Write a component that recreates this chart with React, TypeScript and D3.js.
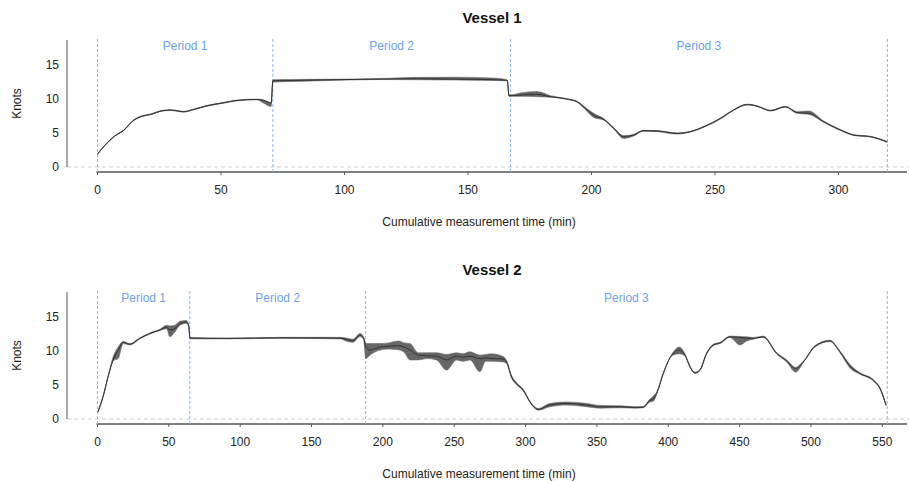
import * as d3 from "d3";
import React from "react";

// rows: [cumulative time (min), mean speed, lower band, upper band] in knots
const vessel1: [number, number, number, number][] = [
  [0, 1.9, 1.85, 1.95],
  [3, 3.2, 3.15, 3.25],
  [6.6, 4.46, 4.4, 4.52],
  [10.7, 5.44, 5.38, 5.5],
  [14.7, 6.9, 6.84, 6.96],
  [17.4, 7.4, 7.34, 7.46],
  [21.5, 7.75, 7.69, 7.81],
  [26.2, 8.28, 8.22, 8.34],
  [29.6, 8.38, 8.32, 8.44],
  [34.9, 8.14, 8.08, 8.2],
  [39, 8.48, 8.42, 8.54],
  [44.4, 9.02, 8.96, 9.08],
  [51.1, 9.46, 9.4, 9.52],
  [56.5, 9.8, 9.74, 9.86],
  [64.6, 9.95, 9.9, 10.0],
  [67.3, 9.8, 9.4, 9.88],
  [70.3, 9.4, 8.9, 9.5],
  [71, 12.7, 12.5, 12.85],
  [80, 12.75, 12.6, 12.9],
  [95, 12.85, 12.75, 12.92],
  [115, 12.95, 12.88, 13.02],
  [130, 13.0, 12.85, 13.2],
  [145, 12.95, 12.8, 13.22],
  [160, 12.85, 12.75, 13.1],
  [165.9, 12.75, 12.7, 12.82],
  [166.6, 10.5, 10.4, 10.6],
  [172, 10.6, 10.4, 10.95],
  [178, 10.7, 10.35, 11.1],
  [183.4, 10.35, 10.28, 10.5],
  [190.2, 10.0, 9.94, 10.06],
  [194.2, 9.6, 9.52, 9.68],
  [198.3, 8.4, 8.15, 8.55],
  [200.9, 7.6, 7.3, 7.9],
  [205, 7.0, 6.9, 7.1],
  [209, 5.7, 5.6, 5.8],
  [213, 4.5, 4.2, 4.6],
  [217, 4.7, 4.55, 4.8],
  [221, 5.34, 5.28, 5.4],
  [226.6, 5.3, 5.2, 5.36],
  [234.7, 4.95, 4.85, 5.02],
  [240, 5.2, 5.14, 5.26],
  [246, 6.0, 5.94, 6.06],
  [252.2, 7.15, 7.05, 7.22],
  [257.6, 8.4, 8.34, 8.46],
  [263, 9.2, 9.14, 9.26],
  [267, 8.97, 8.91, 9.03],
  [272.5, 8.3, 8.24, 8.36],
  [278.5, 8.87, 8.81, 8.93],
  [283.3, 8.0, 7.9, 8.15],
  [288, 7.9, 7.75, 8.25],
  [294, 6.67, 6.58, 6.76],
  [300.8, 5.44, 5.36, 5.52],
  [306.2, 4.7, 4.64, 4.76],
  [313, 4.46, 4.4, 4.52],
  [319.7, 3.7, 3.64, 3.76],
];

const vessel2: [number, number, number, number][] = [
  [0.4, 1.07, 1.0, 1.15],
  [3.9, 3.3, 3.2, 3.4],
  [7.4, 6.2, 6.1, 6.3],
  [11, 8.7, 8.6, 9.2],
  [14.5, 10.1, 8.9, 10.6],
  [18, 11.3, 11.1, 11.4],
  [22.6, 11.0, 10.9, 11.1],
  [29.6, 11.86, 11.78, 11.94],
  [36.7, 12.6, 12.52, 12.68],
  [43.7, 13.1, 13.02, 13.2],
  [48.4, 13.5, 13.3, 13.8],
  [50.7, 13.1, 12.1, 13.7],
  [54.2, 13.3, 12.8, 13.8],
  [57.7, 14.0, 13.8, 14.4],
  [62.4, 14.3, 14.1, 14.5],
  [64, 13.6, 13.4, 13.8],
  [64.8, 11.9, 11.8, 12.0],
  [90, 11.86, 11.8, 11.92],
  [130, 11.95, 11.88, 12.02],
  [170, 11.9, 11.8, 12.02],
  [175, 11.7, 11.4, 11.9],
  [179, 11.5, 11.3, 11.75],
  [184, 12.35, 12.15, 12.6],
  [186.5, 11.9, 11.7, 12.1],
  [188, 10.6, 8.9, 11.1],
  [190.9, 10.15, 9.4, 11.1],
  [198, 10.6, 10.15, 11.1],
  [204, 10.7, 10.3, 11.2],
  [210.7, 10.8, 10.2, 11.5],
  [215, 10.6, 9.8, 11.2],
  [219, 10.15, 8.7, 11.1],
  [224.7, 9.4, 8.7, 9.75],
  [231, 9.3, 8.9, 9.75],
  [237.6, 9.26, 8.7, 9.75],
  [244.6, 8.7, 7.2, 9.5],
  [251.6, 9.26, 8.7, 9.75],
  [256, 9.1, 8.5, 9.6],
  [261, 9.26, 8.7, 9.9],
  [268, 8.85, 6.96, 9.4],
  [272, 9.0, 8.5, 9.5],
  [276.2, 8.9, 8.5, 9.6],
  [284.3, 8.85, 8.4, 9.2],
  [286.7, 8.4, 8.2, 8.6],
  [290.2, 6.2, 6.0, 6.4],
  [293.7, 5.2, 5.05, 5.35],
  [298.3, 4.26, 4.15, 4.4],
  [303, 2.55, 2.45, 2.65],
  [308.9, 1.42, 1.3, 1.55],
  [317, 2.06, 1.8, 2.3],
  [328.8, 2.3, 2.05, 2.5],
  [342.8, 2.06, 1.8, 2.3],
  [352, 1.8, 1.6, 2.0],
  [366, 1.8, 1.65, 1.95],
  [377.8, 1.7, 1.6, 1.8],
  [382.5, 1.75, 1.65, 1.85],
  [387, 2.7, 2.5, 2.9],
  [389.5, 2.94, 2.6, 3.4],
  [391.8, 3.77, 3.6, 3.9],
  [396.5, 6.7, 6.6, 6.8],
  [402.4, 9.4, 9.3, 9.5],
  [407.7, 10.15, 9.6, 10.6],
  [411.7, 9.4, 9.3, 9.6],
  [415.2, 7.7, 7.6, 7.8],
  [418.7, 6.8, 6.7, 6.9],
  [422.2, 7.2, 7.1, 7.3],
  [426.9, 9.66, 9.56, 9.76],
  [431.6, 10.9, 10.8, 11.0],
  [436.3, 11.2, 11.1, 11.3],
  [443.2, 12.1, 12.0, 12.2],
  [450.2, 12.0, 10.9, 12.15],
  [455, 11.9, 11.5, 12.1],
  [459.5, 11.86, 11.75, 12.0],
  [466.6, 12.1, 12.0, 12.2],
  [476, 9.66, 9.56, 9.76],
  [483, 8.58, 8.4, 8.7],
  [489.3, 7.45, 6.9, 7.6],
  [494.6, 8.4, 8.3, 8.5],
  [502.8, 10.7, 10.6, 10.8],
  [513.3, 11.5, 11.4, 11.6],
  [520.3, 9.9, 9.8, 10.0],
  [527.4, 7.8, 7.5, 8.0],
  [534.4, 6.7, 6.6, 6.8],
  [543.7, 5.7, 5.6, 5.8],
  [548.4, 4.5, 4.4, 4.6],
  [552.6, 2.06, 1.95, 2.15],
];

const periods1 = [0, 71, 167.2, 319.8];
const periods2 = [0, 64.7, 187.9, 553.5];
const periodLabels = ["Period 1", "Period 2", "Period 3"];

const yTicks = [0, 5, 10, 15];
const xTicks1 = [0, 50, 100, 150, 200, 250, 300];
const xTicks2 = [0, 50, 100, 150, 200, 250, 300, 350, 400, 450, 500, 550];

const FONT = "'Liberation Sans', Arial, sans-serif";
const BLUE_LINE = "#8db6f2";
const BLUE_TEXT = "#6c9ff0";

type Row = [number, number, number, number];

function Panel(props: {
  title: string;
  rows: Row[];
  periods: number[];
  ticks: number[];
  xMax: number;
  xRight: number;
  offset: number;
}) {
  const { title, rows, periods, ticks, xMax, xRight, offset } = props;

  const x = d3.scaleLinear().domain([0, xMax]).range([97.5, xRight]);
  const y = d3.scaleLinear().domain([0, 18.7]).range([167, 40]);

  const band = d3
    .area<Row>()
    .x((d) => x(d[0]))
    .y0((d) => y(d[2]))
    .y1((d) => y(d[3]))
    .curve(d3.curveMonotoneX);

  const mean = d3
    .line<Row>()
    .x((d) => x(d[0]))
    .y((d) => y(d[1]))
    .curve(d3.curveMonotoneX);

  const axisY = 172;

  return (
    <g transform={`translate(0,${offset})`} fontFamily={FONT}>
      <text x={492} y={23} textAnchor="middle" fontSize={15} fontWeight="bold" fill="#111">
        {title}
      </text>

      {/* zero reference */}
      <line x1={67} x2={909} y1={y(0)} y2={y(0)} stroke="#cfcfcf" strokeDasharray="4,3" />

      {/* y axis */}
      <line x1={67} x2={67} y1={40} y2={y(0)} stroke="#555" />
      {yTicks.map((t) => (
        <text key={t} x={59} y={y(t) + 4} textAnchor="end" fontSize={12} fill="#222">
          {t}
        </text>
      ))}
      <text
        transform={`translate(21,${(40 + y(0)) / 2}) rotate(-90)`}
        textAnchor="middle"
        fontSize={12}
        fill="#222"
      >
        Knots
      </text>

      {/* x axis */}
      <line x1={x(0) - 1} x2={907} y1={axisY} y2={axisY} stroke="#555" strokeWidth={1.3} />
      {ticks.map((t) => (
        <g key={t}>
          <line x1={x(t)} x2={x(t)} y1={axisY} y2={axisY + 3} stroke="#555" />
          <text x={x(t)} y={axisY + 22} textAnchor="middle" fontSize={12} fill="#222">
            {t}
          </text>
        </g>
      ))}
      <text x={479} y={226} textAnchor="middle" fontSize={12} fill="#222">
        Cumulative measurement time (min)
      </text>

      {/* periods */}
      {periods.map((p, i) => (
        <line
          key={i}
          x1={x(p)}
          x2={x(p)}
          y1={39}
          y2={axisY}
          stroke={BLUE_LINE}
          strokeDasharray="3,2"
        />
      ))}
      {periodLabels.map((lab, i) => (
        <text
          key={lab}
          x={(x(periods[i]) + x(periods[i + 1])) / 2}
          y={50}
          textAnchor="middle"
          fontSize={12}
          fill={BLUE_TEXT}
        >
          {lab}
        </text>
      ))}

      <path d={band(rows) || ""} fill="#666" stroke="#666" strokeWidth={0.6} />
      <path d={mean(rows) || ""} fill="none" stroke="#333" strokeWidth={1} />
    </g>
  );
}

export default function App() {
  return (
    <svg width={909} height={481} style={{ position: "absolute", left: 0, top: 0 }}>
      <rect width={909} height={481} fill="#fff" />
      <Panel
        title="Vessel 1"
        rows={vessel1}
        periods={periods1}
        ticks={xTicks1}
        xMax={300}
        xRight={838.5}
        offset={0}
      />
      <Panel
        title="Vessel 2"
        rows={vessel2}
        periods={periods2}
        ticks={xTicks2}
        xMax={550}
        xRight={882.3}
        offset={252}
      />
    </svg>
  );
}
